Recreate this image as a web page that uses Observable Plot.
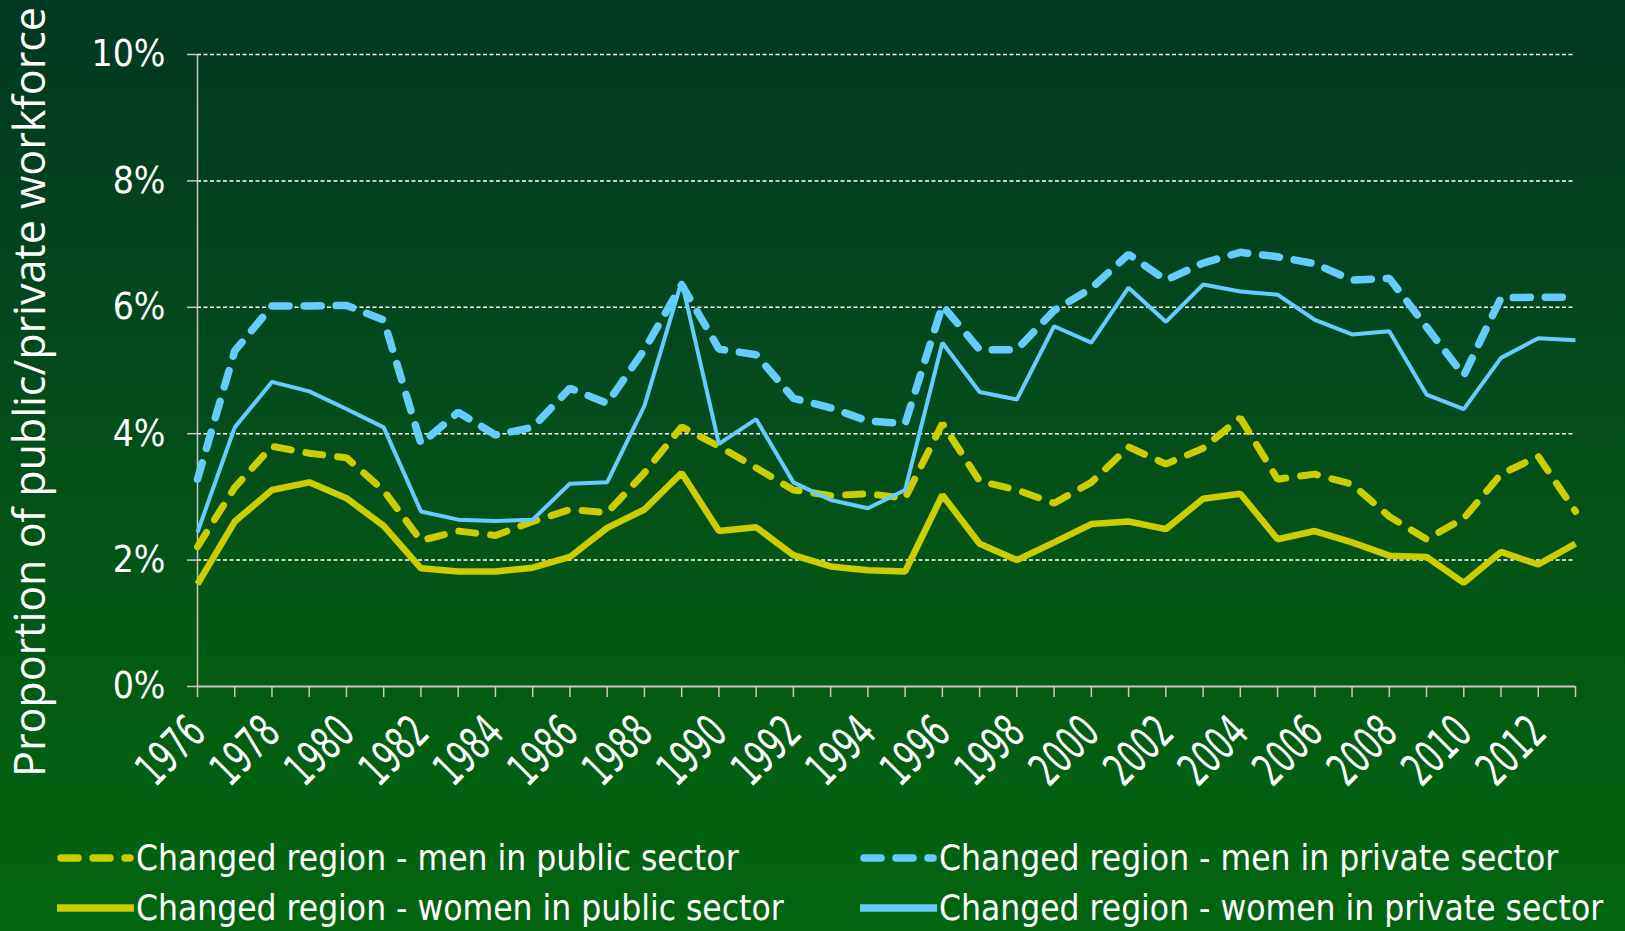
<!DOCTYPE html>
<html>
<head>
<meta charset="utf-8">
<script src="https://cdn.jsdelivr.net/npm/d3@7"></script>
<script src="https://cdn.jsdelivr.net/npm/@observablehq/plot@0.6"></script>
<style>
  html, body { margin: 0; padding: 0; }
  body { width: 1625px; height: 931px; overflow: hidden;
    background: linear-gradient(to bottom, #013821 0%, #024a1c 40%, #035c12 75%, #03650f 100%); }
  #wrap { position: relative; width: 1625px; height: 931px; }
  #chart { position: absolute; left: 0; top: 0; }
  .legend { position: absolute; font-family: "DejaVu Sans Condensed", "DejaVu Sans", sans-serif; font-stretch: condensed;
    font-size: 35px; color: white; white-space: nowrap; display: flex; align-items: center; }
  .legend svg { margin-right: 2px; }
</style>
</head>
<body>
<div id="wrap">
  <div id="chart"></div>
  <div id="legend"></div>
</div>
<script>
const years = [1976,1977,1978,1979,1980,1981,1982,1983,1984,1985,1986,1987,1988,1989,1990,1991,1992,1993,1994,1995,1996,1997,1998,1999,2000,2001,2002,2003,2004,2005,2006,2007,2008,2009,2010,2011,2012,2013];
const labelYears = [1976,1978,1980,1982,1984,1986,1988,1990,1992,1994,1996,1998,2000,2002,2004,2006,2008,2010,2012];

const menPublic = [2.21,3.15,3.80,3.69,3.62,3.10,2.31,2.46,2.39,2.61,2.80,2.75,3.38,4.11,3.80,3.46,3.11,3.02,3.05,2.98,4.16,3.25,3.11,2.90,3.23,3.79,3.52,3.77,4.25,3.28,3.36,3.20,2.69,2.33,2.66,3.36,3.64,2.77];
const menPrivate = [3.28,5.31,6.02,6.02,6.03,5.80,3.84,4.34,3.98,4.10,4.72,4.48,5.33,6.36,5.34,5.25,4.56,4.41,4.20,4.16,6.03,5.33,5.33,5.95,6.30,6.84,6.43,6.70,6.87,6.80,6.69,6.43,6.46,5.69,4.92,6.15,6.16,6.16];
const womenPublic = [1.62,2.61,3.11,3.23,2.98,2.54,1.87,1.82,1.82,1.88,2.05,2.51,2.80,3.38,2.46,2.52,2.08,1.90,1.84,1.82,3.03,2.26,2.00,2.28,2.57,2.61,2.49,2.97,3.05,2.33,2.46,2.28,2.07,2.05,1.64,2.13,1.93,2.26];
const womenPrivate = [2.44,4.10,4.82,4.67,4.39,4.10,2.77,2.64,2.62,2.64,3.21,3.23,4.44,6.41,3.84,4.23,3.23,2.95,2.82,3.11,5.44,4.66,4.54,5.70,5.44,6.31,5.77,6.36,6.25,6.20,5.80,5.57,5.62,4.62,4.39,5.20,5.51,5.48];

const yTicks = [0,2,4,6,8,10];
const seriesNames = [
  "Changed region - men in public sector",
  "Changed region - men in private sector",
  "Changed region - women in public sector",
  "Changed region - women in private sector"
];
const yTitle = "Proportion of public/private workforce";

const YELLOW = "#cccc00", BLUE = "#66ccff";
const DASH = "17,15";
const styles = [
  {stroke: YELLOW, strokeWidth: 7, strokeDasharray: DASH},
  {stroke: BLUE, strokeWidth: 7.5, strokeDasharray: DASH},
  {stroke: YELLOW, strokeWidth: 6.5, strokeDasharray: null},
  {stroke: BLUE, strokeWidth: 4, strokeDasharray: null}
];
const seriesValues = [menPublic, menPrivate, womenPublic, womenPrivate];

const lineMarks = seriesValues.map((vals, i) => {
  const data = years.map((y, j) => ({year: y, value: vals[j]}));
  const s = styles[i];
  const opts = {x: "year", y: "value", stroke: s.stroke, strokeWidth: s.strokeWidth, strokeLinecap: s.strokeDasharray ? "round" : "butt", strokeLinejoin: "miter"};
  if (s.strokeDasharray) opts.strokeDasharray = s.strokeDasharray;
  return Plot.line(data, opts);
});

const FONT = "'DejaVu Sans Condensed', 'DejaVu Sans', sans-serif";

const chart = Plot.plot({
  width: 1625,
  height: 800,
  marginTop: 54,
  marginBottom: 114,
  marginLeft: 197,
  marginRight: 50,
  style: {background: "transparent", color: "white", fontFamily: FONT, fontStretch: "condensed", overflow: "visible"},
  x: {type: "linear", domain: [1976, 2013]},
  y: {domain: [0, 10]},
  marks: [
    Plot.ruleY(yTicks.filter(d => d > 0), {y: d => d, stroke: "white", strokeWidth: 1.5, strokeDasharray: "4,2.5"}),
    Plot.axisY({ticks: yTicks, tickFormat: d => d + "%", tickSize: 10, tickPadding: 22, fontSize: 37, label: null, stroke: "#c8c8c8", strokeWidth: 1.5, strokeOpacity: 1}),
    Plot.axisX({ticks: years, tickSize: 11, tickFormat: () => "", label: null, stroke: "#c8c8c8", strokeWidth: 1.5, strokeOpacity: 1}),
    Plot.axisX({ticks: labelYears, tickSize: 0, tickPadding: 0, tickRotate: -45, fontSize: 41, label: null,
      tickFormat: d => String(d)}),
    Plot.ruleX([1976], {stroke: "#c8c8c8", strokeWidth: 1.5}),
    Plot.ruleY([0], {stroke: "#c8c8c8", strokeWidth: 2}),
    ...lineMarks
  ]
});
// place the rotated year labels (narrow, tall look like the condensed reference face)
const xs = chart.scale("x");
Array.from(chart.querySelectorAll("text")).forEach(el => {
  const txt = el.textContent.trim();
  if (!/^\d{4}$/.test(txt)) return;
  const px = xs.apply(+txt);
  if (el.parentNode && el.parentNode.removeAttribute) el.parentNode.removeAttribute("transform");
  el.removeAttribute("x"); el.removeAttribute("y");
  el.setAttribute("dy", "0");
  el.setAttribute("text-anchor", "end");
  el.setAttribute("transform", `translate(${px + 11},735) rotate(-45) scale(0.8,1.12)`);
});
// y-axis title
d3.select(chart).append("text")
  .attr("transform", "translate(45,392) rotate(-90)")
  .attr("text-anchor", "middle")
  .attr("fill", "white")
  .attr("font-family", "'Open Sans', sans-serif")
  .attr("font-stretch", "normal")
  .attr("font-size", 43)
  .text(yTitle);
document.getElementById("chart").appendChild(chart);

// legend
const legendPos = [
  {left: 54, top: 858},
  {left: 857, top: 858},
  {left: 54, top: 908},
  {left: 857, top: 908}
];
const legend = document.getElementById("legend");
seriesNames.forEach((name, i) => {
  const s = styles[i];
  const div = document.createElement("div");
  div.className = "legend";
  div.style.left = legendPos[i].left + "px";
  div.style.top = (legendPos[i].top - 22) + "px";
  div.style.height = "44px";
  const sw = d3.create("svg").attr("width", 80).attr("height", 20);
  const l = sw.append("line").attr("y1", 10).attr("y2", 10)
    .attr("stroke", s.stroke).attr("stroke-width", 7.5);
  if (s.strokeDasharray) {
    l.attr("x1", 7).attr("x2", 76).attr("stroke-linecap", "round").attr("stroke-dasharray", DASH);
  } else {
    l.attr("x1", 3).attr("x2", 80).attr("stroke-linecap", "butt");
  }
  div.appendChild(sw.node());
  const span = document.createElement("span");
  span.textContent = name;
  div.appendChild(span);
  legend.appendChild(div);
});
</script>
</body>
</html>
